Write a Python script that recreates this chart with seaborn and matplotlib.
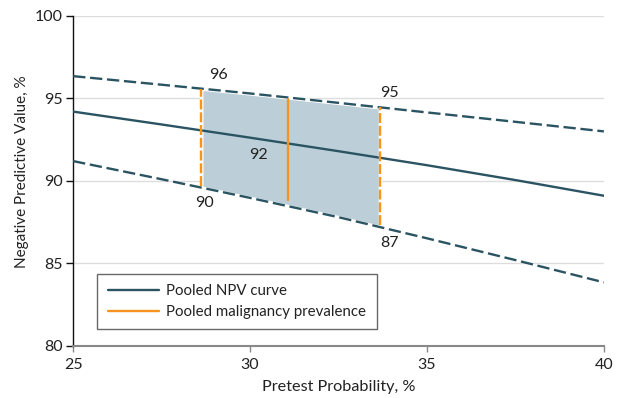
import matplotlib
matplotlib.use("Agg")
import matplotlib.pyplot as plt
from matplotlib.lines import Line2D
import seaborn as sns
import numpy as np
import pandas as pd

# Data
x_pts = [25, 27.5, 30, 32.5, 35, 37.5, 40]
npv_pooled = [94.2, 93.42, 92.62, 91.8, 90.95, 90.05, 89.1]
npv_upper = [96.35, 95.83, 95.3, 94.73, 94.15, 93.58, 93.0]
npv_lower = [91.2, 90.1, 88.97, 87.8, 86.52, 85.2, 83.85]

prev_low, prev_mid, prev_high = 28.62, 31.07, 33.67
vline_low_y = [89.7, 95.6]
vline_mid_y = [88.85, 94.97]
vline_high_y = [87.3, 94.48]

label_texts = ["96", "95", "92", "90", "87"]
label_x = [29.1, 33.93, 30.23, 28.7, 33.95]
label_y = [96.42, 95.33, 91.58, 88.67, 86.24]

teal = "#2b5462"
orange = "#f7941d"
fill_c = "#bccfd8"
txt = "#222222"

sns.set_theme(style="white")
plt.rcParams['font.family'] = ['Lato', 'DejaVu Sans']

fig = plt.figure(figsize=(6.2, 3.98), dpi=100)
ax = fig.add_axes([0.118, 0.131, 0.856, 0.829])

df = pd.DataFrame({"x": x_pts, "mid": npv_pooled, "up": npv_upper, "lo": npv_lower})

# shaded region
xs = np.linspace(prev_low, prev_high, 60)
up_i = np.interp(xs, x_pts, npv_upper)
lo_i = np.interp(xs, x_pts, npv_lower)
ax.fill_between(xs, lo_i, up_i, facecolor=fill_c, edgecolor="white", linewidth=2.5, zorder=2)

sns.lineplot(data=df, x="x", y="mid", ax=ax, color=teal, lw=1.7, zorder=3)
sns.lineplot(data=df, x="x", y="up", ax=ax, color=teal, lw=1.7, zorder=3)
sns.lineplot(data=df, x="x", y="lo", ax=ax, color=teal, lw=1.7, zorder=3)
for ln in ax.lines[1:3]:
    ln.set_linestyle((0, (5.2, 2.0)))

ax.plot([prev_low, prev_low], vline_low_y, color=orange, lw=1.7, ls=(0, (4.2, 1.2)), zorder=4)
ax.plot([prev_mid, prev_mid], vline_mid_y, color=orange, lw=1.7, zorder=4)
ax.plot([prev_high, prev_high], vline_high_y, color=orange, lw=1.7, ls=(0, (4.2, 1.2)), zorder=4)

for t, x, y in zip(label_texts, label_x, label_y):
    ax.text(x, y, t, ha="center", va="center", fontsize=11.5, color=txt, zorder=5)

ax.set_xlim(25, 40)
ax.set_ylim(80, 100)
ax.set_xticks([25, 30, 35, 40])
ax.set_yticks([80, 85, 90, 95, 100])
ax.yaxis.grid(True, color="#dddddd", lw=1)
ax.set_axisbelow(True)
ax.tick_params(axis="y", labelsize=11.5, length=5, width=1, colors="#111111", labelcolor=txt, pad=2.5, left=True)
ax.tick_params(axis="x", labelsize=11.5, length=4, width=1, colors="#888888", labelcolor=txt, pad=5, bottom=True)
for s in ["top", "right"]:
    ax.spines[s].set_visible(False)
ax.spines["left"].set_color("#111111")
ax.spines["bottom"].set_color("#888888")
ax.spines["left"].set_linewidth(1)
ax.spines["bottom"].set_linewidth(1.5)

ax.set_xlabel("Pretest Probability, %", fontsize=11.7, color=txt)
ax.set_ylabel("Negative Predictive Value, %", fontsize=11.0, color=txt)
ax.xaxis.set_label_coords(0.5, -0.124)
ax.xaxis.label.set_va("center")
ax.yaxis.set_label_coords(-0.096, 0.527)
ax.yaxis.label.set_va("center")

handles = [Line2D([0], [0], color=teal, lw=1.7), Line2D([0], [0], color=orange, lw=1.7)]
leg = ax.legend(handles, ["Pooled NPV curve", "Pooled malignancy prevalence"], loc="lower left",
                bbox_to_anchor=(0.045, 0.05), fontsize=10.8, frameon=True, fancybox=False,
                edgecolor="#444444", borderpad=0.7, handlelength=3.4, handletextpad=0.5,
                labelspacing=0.45, borderaxespad=0)
leg.get_frame().set_linewidth(1)
for t in leg.get_texts():
    t.set_color(txt)

fig.savefig("out.png", dpi=100)
